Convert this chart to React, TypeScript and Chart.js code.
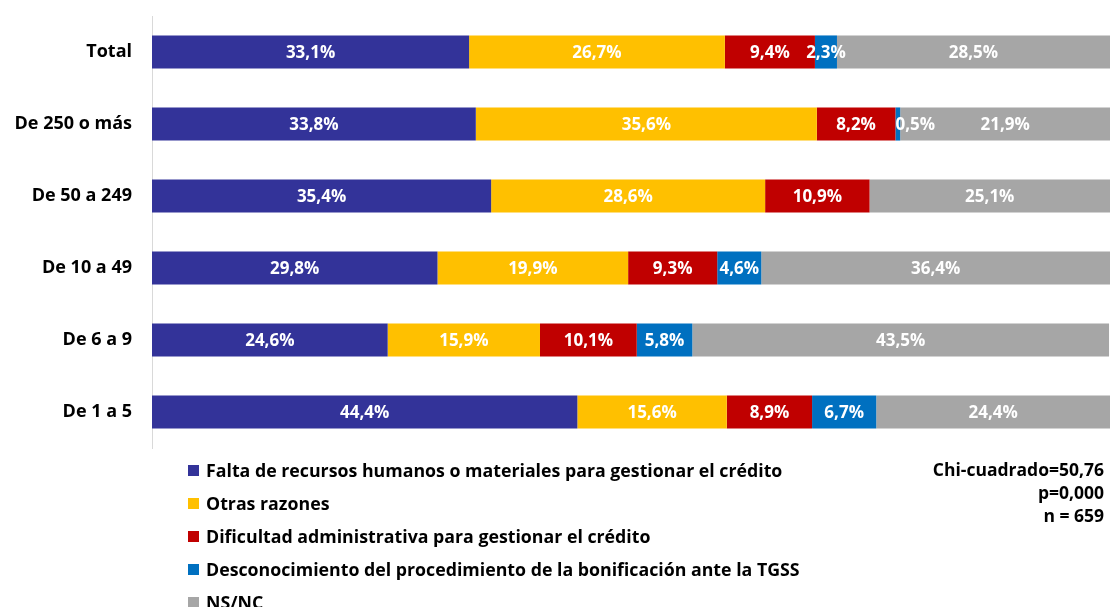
import React, { useEffect, useRef } from "react";
import { Chart, registerables } from "chart.js";

Chart.register(...registerables);

const categories = ["Total", "De 250 o más", "De 50 a 249", "De 10 a 49", "De 6 a 9", "De 1 a 5"];
const seriesNames = [
  "Falta de recursos humanos o materiales para gestionar el crédito",
  "Otras razones",
  "Dificultad administrativa para gestionar el crédito",
  "Desconocimiento del procedimiento de la bonificación ante la TGSS",
  "NS/NC",
];
const faltaRecursos = [33.1, 33.8, 35.4, 29.8, 24.6, 44.4];
const otrasRazones = [26.7, 35.6, 28.6, 19.9, 15.9, 15.6];
const dificultad = [9.4, 8.2, 10.9, 9.3, 10.1, 8.9];
const desconocimiento = [2.3, 0.5, 0, 4.6, 5.8, 6.7];
const nsnc = [28.5, 21.9, 25.1, 36.4, 43.5, 24.4];
const colors = ["#333399", "#FFC000", "#C00000", "#0070C0", "#A6A6A6"];
const statsLines = ["Chi-cuadrado=50,76", "p=0,000", "n = 659"];

const FONT = "'Open Sans', 'Noto Sans', sans-serif";

const labelPlugin = {
  id: "segLabels",
  afterDatasetsDraw(chart: any) {
    const ctx = chart.ctx;
    ctx.save();
    ctx.font = `bold 17px ${FONT}`;
    ctx.fillStyle = "#ffffff";
    ctx.textBaseline = "middle";
    chart.data.datasets.forEach((ds: any, di: number) => {
      const meta = chart.getDatasetMeta(di);
      meta.data.forEach((bar: any, i: number) => {
        const v = ds.data[i];
        if (!v) return;
        const txt = v.toFixed(1).replace(".", ",") + "%";
        const w = Math.abs(bar.x - bar.base);
        if (w < 8) {
          ctx.textAlign = "left";
          ctx.fillText(txt, Math.min(bar.x, bar.base), bar.y + 1);
        } else {
          ctx.textAlign = "center";
          ctx.fillText(txt, (bar.x + bar.base) / 2, bar.y + 1);
        }
      });
    });
    ctx.restore();
  },
};

export default function App() {
  const ref = useRef<HTMLCanvasElement>(null);
  useEffect(() => {
    if (!ref.current) return;
    const data = [faltaRecursos, otrasRazones, dificultad, desconocimiento, nsnc];
    const chart = new Chart(ref.current, {
      type: "bar",
      data: {
        labels: categories,
        datasets: data.map((d, i) => ({
          label: seriesNames[i],
          data: d,
          backgroundColor: colors[i],
          borderWidth: 0,
          categoryPercentage: 1,
          barPercentage: 0.46,
        })),
      },
      options: {
        indexAxis: "y",
        animation: false,
        responsive: false,
        maintainAspectRatio: false,
        layout: { padding: { top: 16, bottom: 159, left: 0, right: 0 } },
        plugins: { legend: { display: false }, tooltip: { enabled: false } },
        scales: {
          x: { stacked: true, min: 0, max: 100, display: false },
          y: {
            stacked: true,
            grid: { display: false, drawTicks: false },
            border: { display: true, color: "#D9D9D9", width: 1 },
            ticks: {
              color: "#000000",
              padding: 20,
              font: { family: FONT, size: 18, weight: "bold" },
            },
            afterFit: (s: any) => {
              s.width = 152;
              s.paddingTop = 0;
              s.paddingBottom = 0;
            },
          },
        },
      },
      plugins: [labelPlugin],
    });
    return () => chart.destroy();
  }, []);

  return (
    <div style={{ position: "absolute", left: 0, top: 0, width: 1110, height: 607, background: "#fff", fontFamily: FONT }}>
      <canvas ref={ref} width={1110} height={607} style={{ display: "block" }} />
      {seriesNames.map((n, i) => (
        <div
          key={n}
          style={{
            position: "absolute",
            left: 188,
            top: 459 + i * 33,
            height: 22,
            display: "flex",
            alignItems: "center",
            fontSize: 17.75,
            fontWeight: "bold",
            color: "#000",
            whiteSpace: "nowrap",
          }}
        >
          <span style={{ width: 11, height: 11, background: colors[i], display: "inline-block", marginRight: 7 }} />
          {n}
        </div>
      ))}
      <div
        style={{
          position: "absolute",
          right: 6,
          top: 458,
          textAlign: "right",
          fontSize: 17.5,
          fontWeight: "bold",
          lineHeight: "23px",
          color: "#000",
        }}
      >
        {statsLines.map((l) => (
          <div key={l}>{l}</div>
        ))}
      </div>
    </div>
  );
}
